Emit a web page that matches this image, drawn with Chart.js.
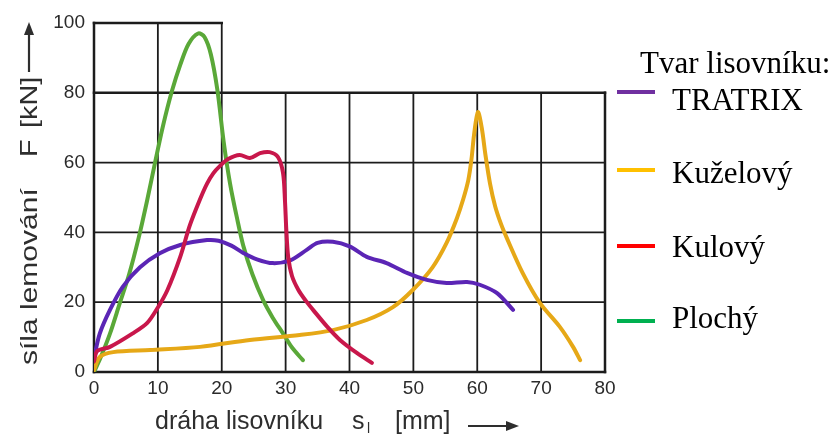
<!DOCTYPE html>
<html lang="cs">
<head>
<meta charset="UTF-8">
<title>Síla lemování</title>
<script src="https://cdn.jsdelivr.net/npm/chart.js"></script>
<style>
    html, body { margin: 0; padding: 0; background: #fff; }
    #wrap { width: 835px; height: 439px; position: relative; }
</style>
</head>
<body>

<div id="wrap"><canvas id="grafSila"></canvas></div>

<script>
    // hodnoty: dráha [mm] / síla [kN]
    const tratrixX = [0, 0.9, 2.5, 4.5, 7.2, 10.3, 13.5, 17.7, 19.5, 21.5, 23.3, 25.5, 28, 30.7, 33.3, 35, 37.4, 40, 42.7, 45.8, 49, 52.1, 55.2, 58.4, 60.4, 63.1, 65.6];
    const tratrixY = [4, 11, 17.8, 24.4, 30, 34, 36.4, 37.8, 37.6, 36.2, 34.2, 32.3, 31.2, 32, 35, 37, 37.3, 36, 33, 31.2, 28.4, 26.4, 25.5, 25.8, 25, 22.6, 17.8];

    const kuzelX = [0, 0.9, 3, 8.8, 16.6, 24.4, 32.2, 37.4, 42.7, 46.8, 49.9, 53, 55.2, 56.8, 57.8, 58.6, 59.1, 59.5, 60.1, 60.7, 61.3, 62, 62.8, 63.7, 64.6, 67.1, 69.8, 72.9, 75, 76.1];
    const kuzelY = [0.6, 4.3, 5.7, 6.3, 7.2, 9.2, 10.6, 12, 14.9, 18.6, 23.5, 30, 37, 44, 49.5, 55, 61, 68, 74.5, 70, 62, 54, 47.5, 42.5, 38.5, 28.4, 19.8, 13, 7.2, 3.4];

    const kulovyX = [0, 0.5, 2.5, 6, 8.3, 10, 11.5, 13.5, 15, 16.6, 17.7, 18.7, 19.7, 21, 22.8, 24.4, 26, 27.5, 28.8, 29.6, 29.9, 30.1, 30.4, 31, 32, 33.2, 34.3, 36.5, 38.5, 41.2, 43.5];
    const kulovyY = [3, 6, 7.2, 11, 14, 18.5, 23.5, 33, 42, 49.5, 54, 57, 59, 61, 62.2, 61.3, 62.7, 63, 61.6, 57, 49, 41, 33, 27.5, 23.5, 20.3, 17.8, 13, 9.2, 5.4, 2.6];

    const plochyX = [0, 1, 2.5, 4, 5.5, 7, 8.3, 9.5, 10.8, 12.2, 13.5, 14.8, 16.3, 17.3, 18.3, 19.3, 20.3, 21.3, 22.4, 23.4, 24.8, 26.5, 28, 29.6, 31, 32.7];
    const plochyY = [0, 4, 11, 19.5, 28, 38.5, 49, 59.5, 70.5, 80.5, 88, 94, 97, 96, 91, 81, 66, 54, 44, 36, 28, 20.5, 15.5, 11, 7, 3.4];

    const nazvy = ['TRATRIX', 'Kuželový', 'Kulový', 'Plochý'];
    const barvyCar = ['#5b25b5', '#e6a817', '#c8174b', '#5aa838'];
    const barvyLegendy = ['#7030a0', '#ffc000', '#ff0000', '#00b050'];

    const ticksX = [0, 10, 20, 30, 40, 50, 60, 70, 80];
    const ticksY = [0, 20, 40, 60, 80, 100];
    const schodX = 20;      // mřížka nad 80 kN jen do 20 mm
    const schodY = 80;

    const body = (xs, ys) => xs.map((x, i) => ({ x: x, y: ys[i] }));
    const serie = [
        body(tratrixX, tratrixY),
        body(kuzelX, kuzelY),
        body(kulovyX, kulovyY),
        body(plochyX, plochyY)
    ];

    // mřížka se schodem nahoře
    const mrizka = {
        id: 'mrizka',
        beforeDatasetsDraw(chart) {
            const ctx = chart.ctx;
            const sx = chart.scales.x, sy = chart.scales.y;
            ctx.save();
            ctx.strokeStyle = '#1c1c1c';
            ctx.lineCap = 'square';
            ticksX.forEach(v => {
                const top = v <= schodX ? ticksY[ticksY.length - 1] : schodY;
                ctx.lineWidth = (v === 0 || v === ticksX[ticksX.length - 1]) ? 2.5 : 1.8;
                ctx.beginPath();
                ctx.moveTo(sx.getPixelForValue(v), sy.getPixelForValue(0));
                ctx.lineTo(sx.getPixelForValue(v), sy.getPixelForValue(top));
                ctx.stroke();
            });
            ticksY.forEach(v => {
                const right = v > schodY ? schodX : ticksX[ticksX.length - 1];
                ctx.lineWidth = (v === 0 || v >= schodY) ? 2.5 : 1.8;
                ctx.beginPath();
                ctx.moveTo(sx.getPixelForValue(0), sy.getPixelForValue(v));
                ctx.lineTo(sx.getPixelForValue(right), sy.getPixelForValue(v));
                ctx.stroke();
            });
            ctx.restore();
        }
    };

    function sipka(ctx, x1, y1, x2, y2) {
        const a = Math.atan2(y2 - y1, x2 - x1);
        ctx.lineWidth = 2.2;
        ctx.beginPath();
        ctx.moveTo(x1, y1);
        ctx.lineTo(x2 - 8 * Math.cos(a), y2 - 8 * Math.sin(a));
        ctx.stroke();
        ctx.beginPath();
        ctx.moveTo(x2, y2);
        ctx.lineTo(x2 - 13 * Math.cos(a) + 5 * Math.sin(a), y2 - 13 * Math.sin(a) - 5 * Math.cos(a));
        ctx.lineTo(x2 - 13 * Math.cos(a) - 5 * Math.sin(a), y2 - 13 * Math.sin(a) + 5 * Math.cos(a));
        ctx.closePath();
        ctx.fill();
    }

    function svisle(ctx, text, x, y, font, natah) {
        ctx.save();
        ctx.translate(x, y);
        ctx.rotate(-Math.PI / 2);
        ctx.scale(natah, 1);
        ctx.font = font;
        ctx.fillText(text, 0, 0);
        ctx.restore();
    }

    // popisky os a legenda
    const popisky = {
        id: 'popisky',
        afterDraw(chart) {
            const ctx = chart.ctx;
            const a = chart.chartArea;
            ctx.save();
            ctx.fillStyle = '#2e2e2e';
            ctx.strokeStyle = '#2e2e2e';
            ctx.textBaseline = 'alphabetic';
            ctx.textAlign = 'left';

            // osa x
            const by = a.bottom + 57;
            ctx.font = '25px "Liberation Sans", Arial, sans-serif';
            ctx.fillText('dráha lisovníku', a.left + 61, by);
            ctx.fillText('s', a.left + 258, by);
            ctx.fillText('[mm]', a.left + 301, by);
            ctx.font = '14px "Liberation Sans", Arial, sans-serif';
            ctx.fillText('l', a.left + 273, by + 4);
            sipka(ctx, a.left + 374, by - 3, a.left + 425, by - 3);

            // osa y
            const f = '24px "Liberation Sans", Arial, sans-serif';
            svisle(ctx, 'síla lemování', 37, a.bottom - 7, f, 1.25);
            svisle(ctx, 'F', 37, a.bottom - 215, f, 1.2);
            svisle(ctx, '[kN]', 37, a.bottom - 244, f, 1.2);
            sipka(ctx, 29, a.bottom - 300, 29, a.top - 1);

            // legenda
            ctx.fillStyle = '#000';
            ctx.font = '31px "Liberation Serif", "Times New Roman", serif';
            ctx.fillText('Tvar lisovníku:', 640, 73);
            const textY = [110, 183, 257, 328];
            const caraY = [92, 170, 246, 321];
            nazvy.forEach((n, i) => {
                ctx.fillStyle = '#000';
                ctx.fillText(n, 672, textY[i]);
                ctx.strokeStyle = barvyLegendy[i];
                ctx.lineWidth = 4;
                ctx.beginPath();
                ctx.moveTo(617, caraY[i]);
                ctx.lineTo(655, caraY[i]);
                ctx.stroke();
            });
            ctx.restore();
        }
    };

    const ctx = document.getElementById('grafSila').getContext('2d');
    const fontOsy = { family: '"Liberation Sans", Arial, sans-serif', size: 19 };

    const chart = new Chart(ctx, {
        type: 'line',
        data: {
            datasets: nazvy.map((n, i) => ({
                label: n,
                data: serie[i],
                borderColor: barvyCar[i],
                borderWidth: 4,
                borderCapStyle: 'round',
                borderJoinStyle: 'round',
                pointRadius: 0,
                fill: false,
                tension: 0.3,
                order: i === 2 ? 0 : 1
            }))
        },
        options: {
            responsive: true,
            maintainAspectRatio: false,
            animation: false,
            layout: { padding: { top: 23, right: 230, left: 0, bottom: 0 } },
            scales: {
                x: {
                    type: 'linear',
                    min: 0,
                    max: 80,
                    afterBuildTicks: s => { s.ticks = ticksX.map(v => ({ value: v })); },
                    afterFit: s => { s.height = 67; },
                    ticks: { font: fontOsy, color: '#2a2a2a', padding: 5, maxRotation: 0 },
                    grid: { display: false, drawTicks: false },
                    border: { display: false }
                },
                y: {
                    min: 0,
                    max: 100,
                    afterBuildTicks: s => { s.ticks = ticksY.map(v => ({ value: v })); },
                    afterFit: s => { s.width = 94; },
                    ticks: { font: fontOsy, color: '#2a2a2a', padding: 9 },
                    grid: { display: false, drawTicks: false },
                    border: { display: false }
                }
            },
            plugins: {
                legend: { display: false },
                tooltip: { enabled: false }
            }
        },
        plugins: [mrizka, popisky]
    });
</script>

</body>
</html>
